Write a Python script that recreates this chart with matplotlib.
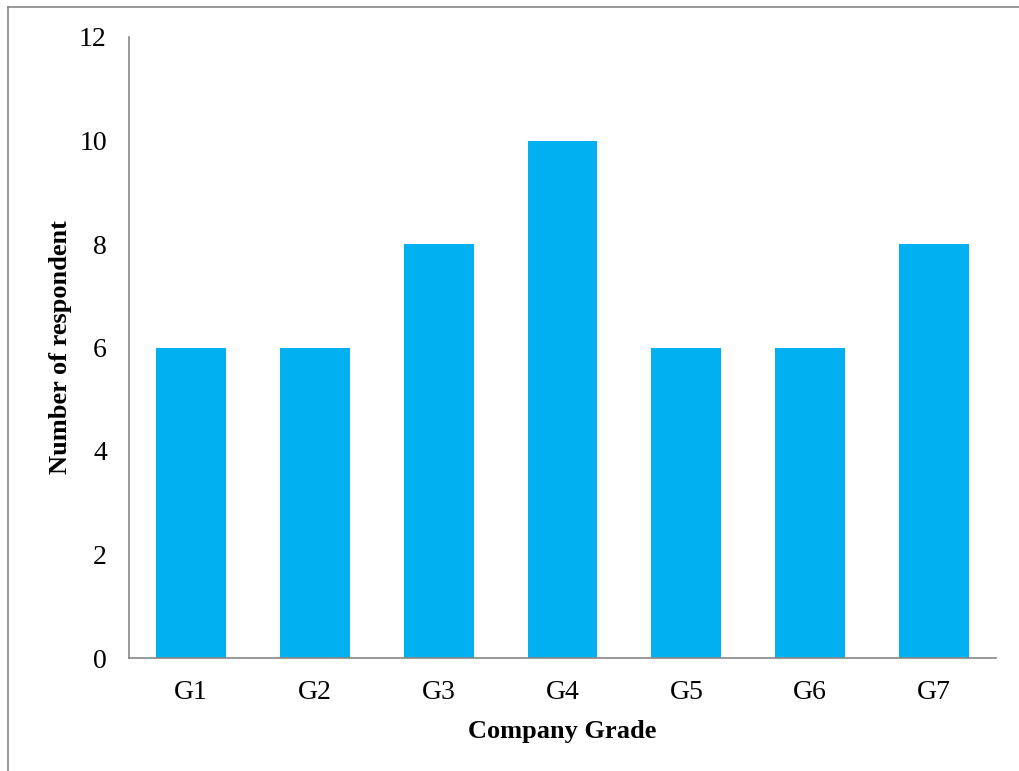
import matplotlib.pyplot as plt
from matplotlib.lines import Line2D

# data
grades = ["G1", "G2", "G3", "G4", "G5", "G6", "G7"]
respondents = [6, 6, 8, 10, 6, 6, 8]
y_ticks = [0, 2, 4, 6, 8, 10, 12]

plt.rcParams["font.family"] = ["Liberation Serif", "DejaVu Serif"]

W, H = 1019, 771
fig = plt.figure(figsize=(W / 100, H / 100), dpi=100)
ax = fig.add_axes([129 / W, 1 - 658 / H, (996 - 129) / W, (658 - 37) / H])

ax.bar(range(len(grades)), respondents, width=0.565, color="#00B0F0")
ax.set_xlim(-0.5, len(grades) - 0.5)
ax.set_ylim(0, 12)
ax.set_yticks(y_ticks)
ax.set_xticks(range(len(grades)))
ax.set_xticklabels(grades)
ax.tick_params(axis="both", length=0, labelsize=20, colors="black")
ax.tick_params(axis="y", pad=16)
ax.tick_params(axis="x", pad=15.5)

for side in ("top", "right"):
    ax.spines[side].set_visible(False)
for side in ("left", "bottom"):
    ax.spines[side].set_color("#868686")
    ax.spines[side].set_linewidth(1.2)

ax.set_xlabel("Company Grade", fontsize=19, fontweight="bold", labelpad=11)
ax.set_ylabel("Number of respondent", fontsize=19, fontweight="bold", labelpad=5)

# outer chart frame (only left and top edges visible in the crop)
fig.add_artist(Line2D([8 / W, 8 / W], [0, 1 - 7 / H], color="#868686", lw=1.2,
                      transform=fig.transFigure))
fig.add_artist(Line2D([8 / W, 1], [1 - 7 / H, 1 - 7 / H], color="#868686", lw=1.2,
                      transform=fig.transFigure))

fig.savefig("out.png", dpi=100)
